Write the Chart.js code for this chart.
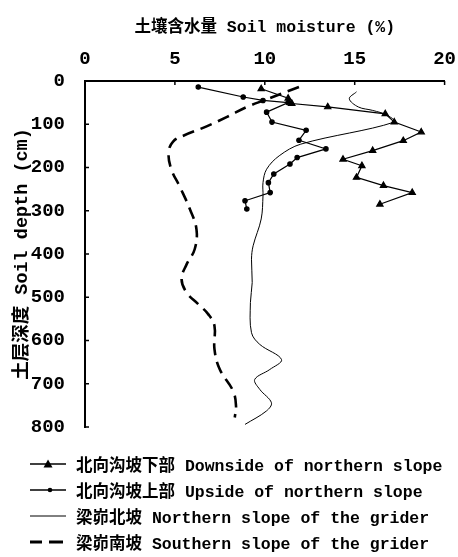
<!DOCTYPE html>
<html>
<head>
<meta charset="utf-8">
<script src="https://cdn.jsdelivr.net/npm/chart.js@4.4.1/dist/chart.umd.min.js"></script>
<style>
  html, body { margin: 0; padding: 0; background: #fff; overflow: hidden; }
  #wrap { position: relative; width: 458px; height: 557px; }
  #legend .row {
    position: absolute; left: 30px; height: 20px;
    display: flex; align-items: center;
    font-family: 'Liberation Mono', 'Noto Sans CJK SC', monospace;
    font-weight: bold; font-size: 16.5px; color: #000; white-space: nowrap;
  }
  #legend svg { width: 36px; height: 12px; margin-right: 10px; }
</style>
</head>
<body>
<div id="wrap">
  <canvas id="chart"></canvas>
  <div id="legend"></div>
</div>
<script>
// Profondeurs (cm) et humidité du sol (%)
const depthDown = [18, 40, 52, 60, 76, 95, 118, 138, 161, 181, 196, 223, 242, 258, 285];
const moistDown = [9.8, 11.3, 11.5, 13.5, 16.7, 17.2, 18.7, 17.7, 16.0, 14.35, 15.4, 15.1, 16.6, 18.2, 16.4];

const depthUp = [14, 37, 45, 50, 72, 95, 114, 137, 157, 177, 192, 215, 235, 258, 277, 296];
const moistUp = [6.3, 8.8, 9.9, 11.3, 10.1, 10.4, 12.3, 11.9, 13.4, 11.8, 11.4, 10.5, 10.2, 10.3, 8.9, 9.0];

const depthNorth = [25, 41, 60, 68, 79, 95, 146, 173, 204, 235, 265, 319, 381, 412, 466, 512, 582, 609, 644, 667, 690, 713, 744, 763, 794];
const moistNorth = [15.1, 14.7, 15.2, 16.0, 16.8, 17.2, 12.0, 10.8, 10.1, 9.9, 9.9, 9.8, 9.35, 9.26, 9.3, 9.2, 9.26, 9.72, 10.93, 10.28, 9.44, 9.72, 10.37, 10.09, 8.9];

const depthSouth = [14, 44, 60, 83, 106, 126, 140, 165, 204, 245, 296, 343, 389, 424, 458, 489, 516, 539, 566, 620, 667, 717, 752, 778];
const moistSouth = [11.9, 10.0, 9.0, 7.9, 6.7, 5.5, 4.9, 4.65, 4.8, 5.28, 5.83, 6.2, 6.1, 5.65, 5.37, 5.65, 6.3, 6.85, 7.2, 7.2, 7.5, 8.24, 8.4, 8.33];

const seriesLabels = [
  '北向沟坡下部 Downside of northern slope',
  '北向沟坡上部 Upside of northern slope',
  '梁峁北坡 Northern slope of the grider',
  '梁峁南坡 Southern slope of the grider'
];
const xTitle = '土壤含水量 Soil moisture (%)';
const yTitle = '土层深度 Soil depth (cm)';

function pts(xs, ys) {
  return xs.map((v, i) => ({ x: v, y: ys[i] }));
}

Chart.defaults.font.family = "'Liberation Mono', 'Noto Sans CJK SC', monospace";
Chart.defaults.font.weight = 'bold';
Chart.defaults.color = '#000';

const tickFont = { family: "'Liberation Sans Narrow', 'Liberation Mono', monospace", size: 19, weight: 'bold' };

// petites graduations tournées vers l'intérieur
const innerTicks = {
  id: 'innerTicks',
  afterDraw(chart) {
    const { ctx, chartArea, scales } = chart;
    ctx.save();
    ctx.strokeStyle = '#000';
    ctx.lineWidth = 1.5;
    ctx.beginPath();
    scales.x.ticks.forEach(t => {
      const px = scales.x.getPixelForValue(t.value);
      ctx.moveTo(px, chartArea.top);
      ctx.lineTo(px, chartArea.top + 4);
    });
    scales.y.ticks.forEach(t => {
      const py = scales.y.getPixelForValue(t.value);
      ctx.moveTo(chartArea.left, py);
      ctx.lineTo(chartArea.left + 4, py);
    });
    ctx.stroke();
    ctx.restore();
  }
};

const ctx = document.getElementById('chart').getContext('2d');
new Chart(ctx, {
  type: 'scatter',
  data: {
    datasets: [
      {
        label: seriesLabels[0],
        data: pts(moistDown, depthDown),
        showLine: true,
        borderColor: '#000',
        backgroundColor: '#000',
        borderWidth: 1.2,
        pointStyle: 'triangle',
        pointRadius: 3.6,
        tension: 0
      },
      {
        label: seriesLabels[1],
        data: pts(moistUp, depthUp),
        showLine: true,
        borderColor: '#000',
        backgroundColor: '#000',
        borderWidth: 1.2,
        pointStyle: 'circle',
        pointRadius: 2.2,
        tension: 0
      },
      {
        label: seriesLabels[2],
        data: pts(moistNorth, depthNorth),
        showLine: true,
        borderColor: '#000',
        borderWidth: 1,
        pointRadius: 0,
        tension: 0.35
      },
      {
        label: seriesLabels[3],
        data: pts(moistSouth, depthSouth),
        showLine: true,
        borderColor: '#000',
        borderWidth: 2.6,
        borderDash: [12, 7],
        pointRadius: 0,
        tension: 0.4
      }
    ]
  },
  options: {
    responsive: true,
    maintainAspectRatio: false,
    animation: false,
    layout: { padding: { left: 0, top: 0, right: 13, bottom: 130 } },
    plugins: {
      legend: { display: false },
      tooltip: { enabled: false }
    },
    scales: {
      x: {
        type: 'linear',
        position: 'top',
        min: 0,
        max: 20,
        ticks: { stepSize: 5, padding: 2, font: tickFont },
        grid: { display: false },
        border: { display: true, color: '#000', width: 2 },
        title: {
          display: true,
          text: xTitle,
          font: { size: 16.5, weight: 'bold' },
          padding: { top: 18, bottom: 0 }
        },
        afterFit: s => { s.height = 81; }
      },
      y: {
        type: 'linear',
        reverse: true,
        min: 0,
        max: 800,
        ticks: { stepSize: 100, padding: 12, font: tickFont },
        grid: { display: false },
        border: { display: true, color: '#000', width: 2 },
        title: {
          display: true,
          text: yTitle,
          font: { size: 18.5, weight: 'bold' },
          padding: { top: 11, bottom: 0 }
        },
        afterFit: s => { s.width = 85; }
      }
    }
  },
  plugins: [innerTicks]
});

// Légende en HTML sous le graphique
const samples = [
  '<line x1="0" y1="6" x2="36" y2="6" stroke="#000" stroke-width="1.3"/><polygon points="18,1.5 22.5,9.5 13.5,9.5" fill="#000"/>',
  '<line x1="0" y1="6" x2="36" y2="6" stroke="#000" stroke-width="1.3"/><circle cx="20" cy="6" r="2.3" fill="#000"/>',
  '<line x1="0" y1="6" x2="36" y2="6" stroke="#000" stroke-width="1"/>',
  '<line x1="-2" y1="6" x2="12" y2="6" stroke="#000" stroke-width="3"/><line x1="19" y1="6" x2="33" y2="6" stroke="#000" stroke-width="3"/>'
];
const rowCenters = [464, 490, 516, 542];
const legend = document.getElementById('legend');
seriesLabels.forEach((txt, i) => {
  const row = document.createElement('div');
  row.className = 'row';
  row.style.top = (rowCenters[i] - 10) + 'px';
  row.innerHTML = '<svg viewBox="0 0 36 12">' + samples[i] + '</svg><span>' + txt + '</span>';
  legend.appendChild(row);
});
</script>
</body>
</html>
